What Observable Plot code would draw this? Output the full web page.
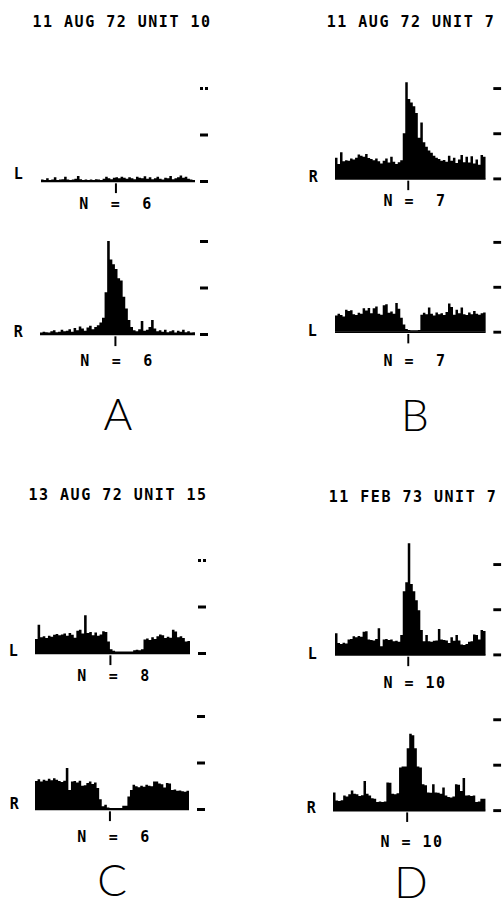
<!DOCTYPE html>
<html><head><meta charset="utf-8">
<script src="https://cdn.jsdelivr.net/npm/d3@7"></script>
<script src="https://cdn.jsdelivr.net/npm/@observablehq/plot@0.6"></script>
<style>
html,body{margin:0;padding:0;background:#fff;}
#page{position:relative;width:504px;height:907px;overflow:hidden;background:#fff;}
.panel{position:absolute;}
.mono{font-family:"DejaVu Sans Mono",monospace;font-weight:bold;font-size:15px;letter-spacing:1.5px;fill:#000;}
.big{font-family:"Lato","Liberation Sans",sans-serif;font-weight:300;font-size:44px;fill:#000;}
</style></head><body><div id="page"></div>
<script>
// ---- data ----
const binStart = -29, binEnd = 31;          // 60 bins, stimulus at 0
const tickValues = [0, 10, 20];
const titles = ["11 AUG 72 UNIT 10", "11 AUG 72 UNIT 7", "13 AUG 72 UNIT 15", "11 FEB 73 UNIT 7"];
const panelLetters = ["A", "B", "C", "D"];
const sideLabels = ["L", "R", "R", "L", "L", "R", "L", "R"];
const trialCounts = [6, 6, 7, 7, 8, 6, 10, 10];

const aL = [0.3,0.2,0.6,0.2,0.3,0.8,0.2,0.3,0.4,0.9,
 0.3,0.2,0.3,0.5,1.1,0.4,0.2,0.3,0.2,0.3,
 0.2,0.4,0.3,0.2,0.5,0.9,0.6,0.4,0.7,0.8,
 0.6,0.9,0.7,0.5,0.8,0.6,0.4,0.9,0.7,0.6,
 1.0,0.5,0.8,0.4,0.6,0.9,0.5,0.3,0.7,0.6,
 1.1,0.4,0.6,0.8,1.2,0.7,0.9,0.5,0.3,0.2];
const aR = [0.3,0.5,0.4,0.3,0.6,0.8,0.4,0.5,0.9,0.6,
 0.7,1.0,0.5,1.3,0.8,1.6,1.2,0.7,1.4,1.8,
 1.0,1.5,1.9,2.5,3.5,9.0,20.0,16.0,15.0,14.0,
 12.0,11.5,8.0,5.5,3.0,1.5,0.8,0.6,1.0,2.8,
 0.7,0.9,1.5,3.0,1.2,0.6,0.8,0.5,0.9,0.4,
 0.6,0.8,0.3,0.7,0.5,0.9,0.4,0.6,0.3,0.4];
const bR = [4.6,3.2,5.8,3.8,4.0,3.9,4.4,4.2,4.6,5.3,
 5.0,4.8,5.4,4.5,4.3,4.0,4.4,3.8,3.3,3.9,
 4.4,3.5,4.8,3.7,3.2,3.6,4.0,10.0,21.3,17.6,
 16.8,16.0,14.5,9.0,12.4,8.0,7.0,6.2,5.7,5.0,
 4.6,4.3,3.9,4.1,3.7,5.0,3.9,4.6,3.4,4.2,
 5.2,3.6,4.8,3.5,4.9,3.3,4.2,3.0,5.2,4.8];
const bL = [3.6,4.0,3.7,3.4,4.9,4.6,4.8,3.9,3.7,4.2,
 4.0,5.2,4.7,5.3,4.1,5.2,5.6,4.0,3.8,5.9,
 6.1,4.2,4.5,4.0,6.4,5.1,3.1,1.6,0.6,0.4,
 0.3,0.3,0.3,0.4,3.8,4.2,3.9,5.4,4.0,3.6,
 4.3,3.9,4.1,3.7,4.4,6.3,5.5,3.8,4.9,4.1,
 5.4,3.9,3.7,4.3,3.9,4.6,4.0,3.8,4.1,4.3];
const cL = [3.0,6.1,3.4,3.6,3.2,3.7,3.5,3.9,4.1,3.8,
 4.0,4.2,3.7,4.3,3.9,3.3,4.8,5.0,4.2,8.1,
 4.3,4.5,3.8,4.4,3.7,4.0,4.7,4.5,2.5,0.8,
 0.5,0.3,0.3,0.3,0.3,0.3,0.3,0.3,0.6,0.7,
 0.6,0.8,2.9,3.1,2.8,3.4,3.0,3.6,4.0,3.8,
 3.2,3.5,3.3,5.0,4.6,3.4,3.6,3.2,2.5,2.6];
const cR = [6.0,6.4,5.9,6.3,6.1,6.5,6.2,6.6,6.3,6.0,
 5.8,6.1,8.8,4.1,5.9,6.0,5.7,6.1,5.0,5.1,
 5.6,5.9,5.4,5.7,4.5,2.1,0.6,0.9,0.3,0.2,
 0.2,0.2,0.2,0.2,0.7,0.7,2.7,4.1,5.2,4.9,
 4.7,5.0,4.8,5.2,5.0,4.9,5.9,5.9,5.5,5.3,
 4.6,5.6,5.5,4.1,4.2,3.9,4.0,3.8,3.7,3.9];
const dL = [4.7,2.5,2.3,2.6,2.4,3.3,3.4,4.0,3.8,4.1,
 3.9,5.0,5.1,3.3,3.2,3.1,3.4,5.8,1.8,3.3,
 3.4,3.2,3.3,2.9,3.0,2.8,4.3,14.0,16.0,24.6,
 15.6,14.0,12.0,9.8,5.4,2.9,4.3,2.9,2.8,3.0,
 3.1,5.6,3.3,3.2,3.1,2.5,3.8,3.0,4.3,3.1,
 2.2,2.1,2.3,2.8,2.9,4.4,4.3,3.3,5.4,5.2];
const dR = [3.9,2.1,2.0,2.2,3.2,3.0,3.5,4.3,3.6,3.5,
 3.1,3.3,6.4,3.6,3.2,2.6,2.5,1.8,1.9,1.8,
 1.9,6.1,6.0,3.6,3.5,3.7,9.4,9.6,9.6,13.6,
 16.8,16.5,13.6,9.6,9.4,5.7,5.5,3.9,3.8,5.7,
 3.9,3.8,3.6,5.0,3.2,2.9,2.8,3.0,5.7,5.6,
 4.2,7.1,3.2,3.3,3.1,3.2,1.8,1.9,2.5,2.5];
const series = [aL, aR, bR, bL, cL, cR, dL, dR];

// ---- layout (pixels) ----
const layout = [
  {left:41,  w:154, base:181, gap:4, dotted:true,  side:[19,173],  n:[116,203], col:0},
  {left:40,  w:155, base:334, gap:4, dotted:false, side:[19,331],  n:[117,360], col:0},
  {left:335, w:155, base:182, gap:7, dotted:false, side:[314,176], n:[415,200], col:1},
  {left:335, w:156, base:336, gap:7, dotted:false, side:[313,330], n:[415,360], col:1},
  {left:35,  w:155, base:653, gap:7, dotted:true,  side:[14,650],  n:[114,675], col:0},
  {left:35,  w:154, base:809, gap:7, dotted:false, side:[15,803],  n:[114,836], col:0},
  {left:335, w:155, base:658, gap:7, dotted:false, side:[313,653], n:[415,682], col:1},
  {left:333, w:156, base:813, gap:7, dotted:false, side:[312,807], n:[412,841], col:1}
];
const titlePos = [[122,21],[411,21],[118,494],[413,496]];
const letterPos = [[118,414],[415,415],[112,880],[411,882]];

const page = document.getElementById("page");
const TOP = 125, UNIT20 = 93;

function histogram(values, g) {
  const pts = values.map((v, i) => ({x: binStart + i, y: v}));
  pts.push({x: binEnd, y: values[values.length - 1]});
  const W = g.w + g.gap + 12, H = 150;
  const fullTicks = g.dotted ? tickValues.slice(0, 2) : tickValues;
  const marks = [
    Plot.areaY(pts, {x: "x", y: "y", curve: "step-after", fill: "black"}),
    Plot.ruleY([0], {x1: binStart, x2: binEnd, stroke: "black", strokeWidth: 1.6}),
    Plot.ruleX([0], {y1: -0.5, y2: -2.6, stroke: "black", strokeWidth: 2}),
    Plot.axisY({anchor: "right", ticks: fullTicks, tickSize: 8, tickFormat: () => "", label: null, strokeWidth: 3})
  ];
  if (g.dotted) marks.push(Plot.axisY({anchor: "right", ticks: [tickValues[2]], tickSize: 8, tickFormat: () => "", label: null, strokeWidth: 3, strokeDasharray: "3,2"}));
  return Plot.plot({
    width: W, height: H,
    marginLeft: 0, marginRight: W - g.w - g.gap, marginTop: 0, marginBottom: 0,
    x: {domain: [binStart, binEnd], range: [0, g.w], axis: null},
    y: {domain: [0, 20], range: [TOP, TOP - UNIT20], label: null},
    style: {background: "transparent", overflow: "visible"},
    marks
  });
}

series.forEach((vals, i) => {
  const g = layout[i];
  const div = document.createElement("div");
  div.className = "panel";
  div.style.left = g.left + "px";
  div.style.top = (g.base - TOP) + "px";
  div.appendChild(histogram(vals, g));
  page.appendChild(div);
});

// ---- text overlay ----
const svg = d3.select(page).append("svg")
  .attr("width", 504).attr("height", 907)
  .style("position", "absolute").style("left", "0px").style("top", "0px");

titles.forEach((t, i) => {
  svg.append("text").attr("class", "mono").attr("text-anchor", "middle")
    .attr("x", titlePos[i][0]).attr("y", titlePos[i][1] + 5.5).text(t);
});
layout.forEach((g, i) => {
  svg.append("text").attr("class", "mono").attr("text-anchor", "middle")
    .attr("x", g.side[0]).attr("y", g.side[1] + 5.5).text(sideLabels[i]);
  const n = trialCounts[i];
  const s = g.col === 0 ? "N  =  " + n : "N = " + String(n).padStart(2, " ");
  svg.append("text").attr("class", "mono").attr("text-anchor", "middle")
    .attr("xml:space", "preserve").style("white-space", "pre")
    .attr("x", g.n[0]).attr("y", g.n[1] + 5.5).text(s);
});
panelLetters.forEach((t, i) => {
  svg.append("text").attr("class", "big").attr("text-anchor", "middle")
    .attr("x", letterPos[i][0]).attr("y", letterPos[i][1] + 16).text(t);
});
</script>
</body></html>
